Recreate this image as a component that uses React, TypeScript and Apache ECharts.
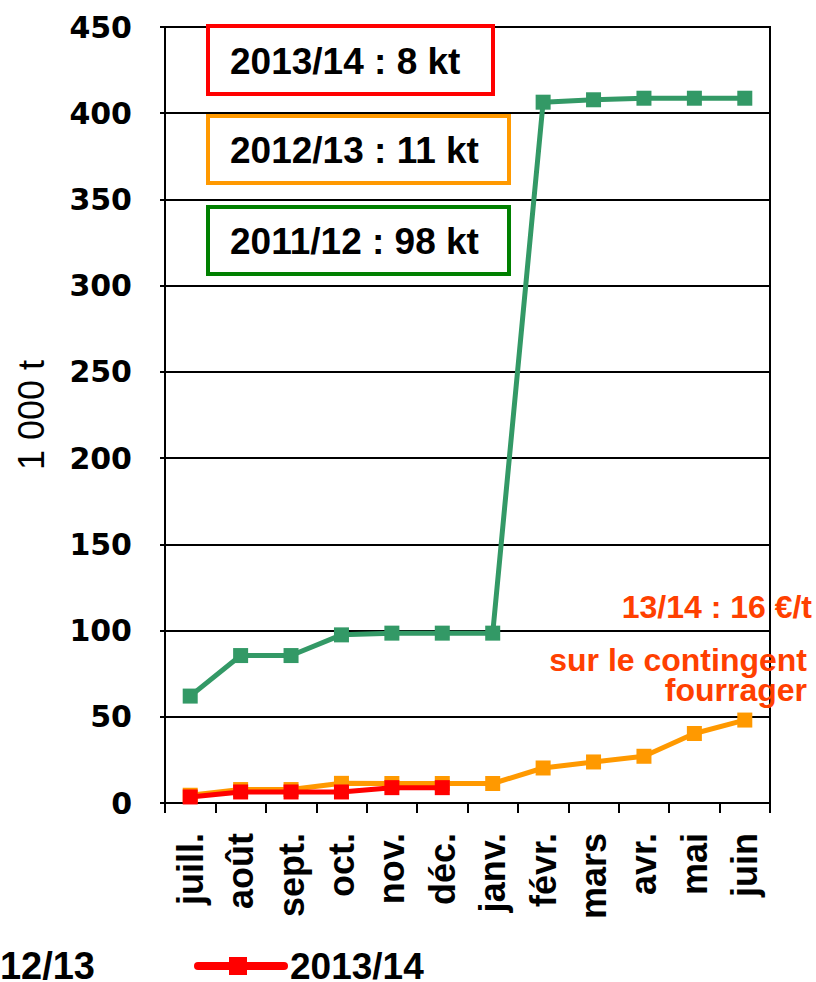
import React, { useEffect, useRef } from "react";
import * as echarts from "echarts";

const months = ["juill.", "août", "sept.", "oct.", "nov.", "déc.", "janv.", "févr.", "mars", "avr.", "mai", "juin"];
const s2011 = [62, 85.5, 85.5, 97.5, 98.5, 98.5, 98.5, 406.4, 407.8, 408.7, 408.7, 408.7];
const s2012 = [4.5, 7.8, 7.8, 11.4, 11.3, 11.3, 11.3, 20.3, 23.8, 27.1, 40.3, 48.1];
const s2013 = [3.5, 6.4, 6.4, 6.4, 8.9, 8.9];
const seriesNames = ["2011/12", "2012/13", "2013/14"];
const seriesColors = ["#339966", "#FF9900", "#FF0000"];
const yTicks = { min: 0, max: 450, interval: 50 };
const boxTexts = ["2013/14 : 8 kt", "2012/13 : 11 kt", "2011/12 : 98 kt"];
const boxColors = ["#FF0000", "#FF9900", "#008000"];
const noteTitle = "13/14 : 16 €/t";
const noteBody = "sur le contingent\nfourrager";

export default function App() {
  const ref = useRef<HTMLDivElement>(null);
  useEffect(() => {
    document.body.style.margin = "0";
    const chart = echarts.init(ref.current!, null, { renderer: "svg" });
    const AR = "'Liberation Sans', Arial, sans-serif";
    const boxes = [
      { x: 208, y: 26, w: 285, h: 68 },
      { x: 208, y: 116, w: 301, h: 67 },
      { x: 208, y: 207, w: 301, h: 67 },
    ];
    const graphic: any[] = [];
    boxes.forEach((b, i) => {
      graphic.push({
        type: "rect",
        shape: { x: b.x, y: b.y, width: b.w, height: b.h },
        style: { fill: "#fff", stroke: boxColors[i], lineWidth: 4 },
        z: 10,
      });
      graphic.push({
        type: "text",
        x: 230,
        y: b.y + b.h / 2 + 1,
        style: { text: boxTexts[i], font: `bold 37px ${AR}`, fill: "#000", verticalAlign: "middle", align: "left" },
        z: 11,
      });
    });
    graphic.push({
      type: "text",
      x: 812,
      y: 607,
      style: { text: noteTitle, font: `bold 32px ${AR}`, fill: "#FF4000", align: "right", verticalAlign: "middle" },
      z: 11,
    });
    graphic.push({
      type: "text",
      x: 807,
      y: 675,
      style: {
        text: noteBody,
        font: `bold 32px ${AR}`,
        lineHeight: 30,
        fill: "#FF4000",
        align: "right",
        verticalAlign: "middle",
      },
      z: 11,
    });
    // legend (cropped at the left edge, as in the reference)
    graphic.push({
      type: "text",
      x: 95,
      y: 966,
      style: { text: seriesNames[1], font: `bold 38px ${AR}`, lineHeight: 30, fill: "#000", align: "right", verticalAlign: "middle" },
    });
    graphic.push({
      type: "line",
      shape: { x1: 198, y1: 966, x2: 284, y2: 966 },
      style: { stroke: seriesColors[2], lineWidth: 8, lineCap: "round" },
    });
    graphic.push({
      type: "rect",
      shape: { x: 229, y: 957, width: 18, height: 18 },
      style: { fill: seriesColors[2] },
    });
    graphic.push({
      type: "text",
      x: 290,
      y: 966,
      style: { text: seriesNames[2], font: `bold 37px ${AR}`, lineHeight: 30, fill: "#000", align: "left", verticalAlign: "middle" },
    });

    const data = [s2011, s2012, s2013];
    chart.setOption({
      animation: false,
      grid: { left: 165, right: 46, top: 27, bottom: 179, show: true, borderColor: "#000", borderWidth: 2 },
      xAxis: {
        type: "category",
        data: months,
        boundaryGap: true,
        axisLine: { lineStyle: { color: "#000", width: 2 } },
        axisTick: { show: true, length: 10, lineStyle: { color: "#000", width: 2 } },
        axisLabel: { interval: 0, rotate: 90, margin: 30, color: "#000", fontSize: 36, fontWeight: "bold", fontFamily: AR },
        splitLine: { show: false },
      },
      yAxis: {
        type: "value",
        min: yTicks.min,
        max: yTicks.max,
        interval: yTicks.interval,
        name: "1 000 t",
        nameLocation: "middle",
        nameRotate: 90,
        nameGap: 116,
        nameTextStyle: { fontSize: 36, color: "#000", fontFamily: AR },
        axisLine: { show: true, lineStyle: { color: "#000", width: 2 } },
        axisTick: { show: true, length: 5, lineStyle: { color: "#000", width: 2 } },
        axisLabel: { margin: 33, color: "#000", fontSize: 30, fontWeight: "bold", fontFamily: "'DejaVu Sans', sans-serif" },
        splitLine: { show: true, lineStyle: { color: "#000", width: 2 } },
      },
      series: data.map((d, i) => ({
        name: seriesNames[i],
        type: "line",
        data: d,
        symbol: "rect",
        symbolSize: 15,
        lineStyle: { color: seriesColors[i], width: 5 },
        itemStyle: { color: seriesColors[i] },
        z: 3 + i,
      })),
      graphic,
    });
    return () => chart.dispose();
  }, []);
  return <div ref={ref} style={{ width: 816, height: 982 }} />;
}
